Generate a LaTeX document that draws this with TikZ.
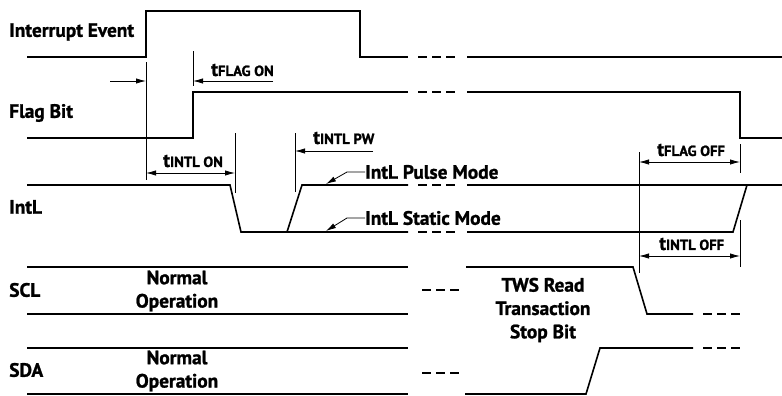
\documentclass[tikz,border=0pt]{standalone}
\usepackage{fontspec}
\setmainfont{PT Sans}[BoldFeatures={FakeBold=1.2}]
\usetikzlibrary{arrows.meta, positioning, calc}

\begin{document}
\begin{tikzpicture}[
    x=0.75pt, y=-0.75pt,
    font=\bfseries\fontsize{14.5}{15}\selectfont,
    wave/.style={line width=1.2pt},
    gapdash/.style={line width=1.2pt, dash pattern=on 6.75pt off 3.75pt},
    tmark/.style={line width=0.6pt},
    tarrow/.style={line width=0.6pt, -{Latex[length=7.5pt,width=4pt]}},
    tboth/.style={line width=0.6pt, {Latex[length=7.5pt,width=4pt]}-{Latex[length=7.5pt,width=4pt]}},
    siglabel/.style={anchor=west, inner sep=0pt},
    tlabel/.style={anchor=west, inner sep=0pt},
    note/.style={align=center, inner sep=0pt, font=\bfseries\fontsize{14.5}{17.5}\selectfont}
]
\useasboundingbox (0,0) rectangle (782,396);

% signal names
\node[siglabel] (interrupt) at (9,32) {Interrupt Event};
\node[siglabel] (flag) at (9,113) {Flag Bit};
\node[siglabel] (intl) at (9,207) {IntL};
\node[siglabel] (scl) at (9,290) {SCL};
\node[siglabel] (sda) at (9,370) {SDA};

% interrupt event
\draw[wave] (27,57) -- (146,57) -- (146,11) -- (360,11) -- (360,57) -- (408,57);
\draw[gapdash] (418,57) -- (456,57);
\draw[wave] (467,57) -- (782,57);

% flag bit
\draw[wave] (27,138) -- (193,138) -- (193,92) -- (408,92);
\draw[gapdash] (418,92) -- (456,92);
\draw[wave] (467,92) -- (740,92) -- (740,138) -- (782,138);

% IntL
\draw[wave] (27,185) -- (230,185) -- (241,232) -- (408,232);
\draw[wave] (287,232) -- (302,185) -- (408,185);
\draw[gapdash] (418,185) -- (456,185);
\draw[gapdash] (418,232) -- (456,232);
\draw[wave] (467,185) -- (782,185);
\draw[wave] (467,232) -- (733,232) -- (747,185);

% SCL
\draw[wave] (27,267) -- (408,267);
\draw[wave] (27,314) -- (408,314);
\draw[gapdash] (422,290) -- (460,290);
\draw[wave] (466,267) -- (633,267) -- (647,314) -- (693,314);
\draw[gapdash] (703,314) -- (741,314);

% SDA
\draw[wave] (27,348) -- (408,348);
\draw[wave] (27,394) -- (408,394);
\draw[gapdash] (422,373) -- (460,373);
\draw[wave] (465,394) -- (586,394) -- (600,348) -- (693,348);
\draw[gapdash] (703,348) -- (741,348);

% timing marks
\draw[tmark] (146,62) -- (146,180);
\draw[tmark] (193,51) -- (193,86);
\draw[tmark] (235,133) -- (235,193);
\draw[tmark] (295,133) -- (295,192);
\draw[tmark] (639,152) -- (639,273);
\draw[tmark] (740,144) -- (740,173);
\draw[tmark] (740,220) -- (740,267);

\draw[tarrow] (110,81) -- (146,81);
\draw[tarrow] (273,81) -- (193,81);
\draw[tboth] (146,173) -- (235,173);
\draw[tarrow] (373,151) -- (295,151);
\draw[tboth] (639,162) -- (740,162);
\draw[tboth] (639,256) -- (740,256);

\node[tlabel] (tflagon) at (211,70) {t{\fontsize{11}{10}\selectfont FLAG ON}};
\node[tlabel] (tintlon) at (163,161) {t{\fontsize{11}{10}\selectfont INTL ON}};
\node[tlabel] (tintlpw) at (313,138) {t{\fontsize{11}{10}\selectfont INTL PW}};
\node[tlabel] (tflagoff) at (657,150) {t{\fontsize{11}{10}\selectfont FLAG OFF}};
\node[tlabel] (tintloff) at (659,244) {t{\fontsize{11}{10}\selectfont INTL OFF}};

% mode notes
\node[tlabel] (pulse) at (365,172) {IntL Pulse Mode};
\node[tlabel] (static) at (365,218) {IntL Static Mode};
\draw[tarrow] (pulse.west) -- ++(-18,0) -- (326,184);
\draw[tarrow] (static.west) -- ++(-18,0) -- (326,231);

\node[note] (sclnormal) at (177,291) {Normal\\Operation};
\node[note] (sdanormal) at (177,371) {Normal\\Operation};
\node[note] (tws) at (543,310) {TWS Read\\Transaction\\Stop Bit};
\end{tikzpicture}
\end{document}
